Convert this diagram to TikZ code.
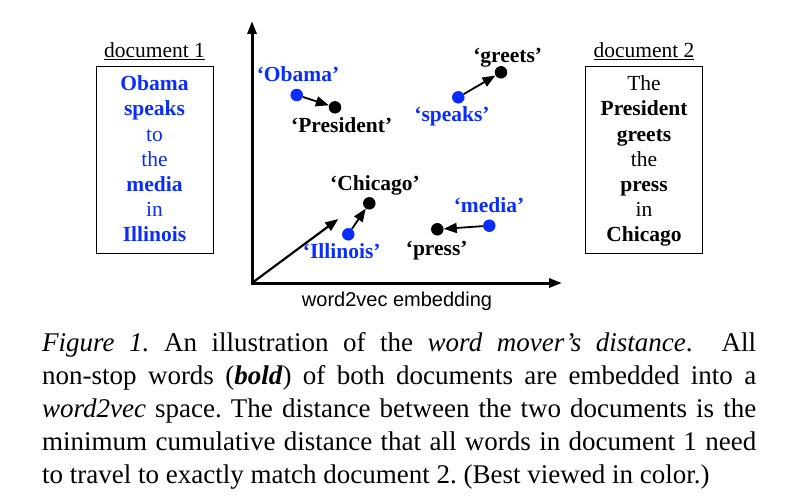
\documentclass[tikz,border=0pt]{standalone}
\usepackage{fontspec}
\setmainfont{Liberation Serif}
\setsansfont{Liberation Sans}
\usetikzlibrary{arrows.meta}
\usetikzlibrary{calc}

\definecolor{wordblue}{RGB}{10,45,255}

\begin{document}
\frenchspacing
\begin{tikzpicture}[x=1pt, y=-1pt,
    wdot/.style={circle, fill=#1, inner sep=0pt, minimum size=12.5pt},
    wlabel/.style={font=\fontsize{21.5}{25}\selectfont\bfseries, text=#1, anchor=base, inner sep=0pt},
    move/.style={-{Triangle[length=13pt, width=10pt]}, line width=1.8pt},
    axis/.style={{Triangle[length=13pt, width=9pt]}-{Triangle[length=13pt, width=9pt]}, line width=3pt},
    docbox/.style={draw, line width=1pt, minimum width=117pt, minimum height=186pt, inner sep=0pt},
    docword/.style={font=\fontsize{21.5}{25}\selectfont, anchor=base, inner sep=0pt},
    capline/.style={font=\fontsize{27}{33}\selectfont, anchor=base west, inner sep=0pt}]
    \useasboundingbox (0,0) rectangle (786,500);

    % The embedding space
        \coordinate (O) at (252,283);
        \coordinate (ytop) at (252,21);
        \coordinate (xend) at (562,283);
        \draw[axis] (ytop) -- (O) -- (xend);
        \node[font=\sffamily\fontsize{20}{24}\selectfont, anchor=base, inner sep=0pt] (xlabel) at (397,306) {word2vec embedding};

    % Document 1
        \node[docword] (docAtitle) at (154.5,58) {\underline{document 1}};
        \node[docbox] (docA) at (154.5,160) {};
        \foreach \w/\s [count=\i] in {Obama/\bfseries, speaks/\bfseries, to/, the/, media/\bfseries, in/, Illinois/\bfseries}
            \node[docword, text=wordblue] (docA\i) at (154.5,66+25*\i) {\s\w};

    % Document 2
        \node[docword] (docBtitle) at (644,58) {\underline{document 2}};
        \node[docbox] (docB) at (644,160) {};
        \foreach \w/\s [count=\i] in {The/, President/\bfseries, greets/\bfseries, the/, press/\bfseries, in/, Chicago/\bfseries}
            \node[docword] (docB\i) at (644,66+25*\i) {\s\w};

    % Words as points
        \node[wdot=wordblue] (obama) at (296.7,95) {};
        \node[wdot=black] (president) at (335,107.3) {};
        \node[wdot=wordblue] (speaks) at (458.3,97.3) {};
        \node[wdot=black] (greets) at (501,72.3) {};
        \node[wdot=black] (chicago) at (369.3,203.3) {};
        \node[wdot=wordblue] (illinois) at (348.3,234.3) {};
        \node[wdot=wordblue] (media) at (489.3,225.7) {};
        \node[wdot=black] (press) at (437.3,229.3) {};

        \node[wlabel=wordblue] (obamatext) at (298,81.7) {`Obama'};
        \node[wlabel=black] (presidenttext) at (341.7,132) {`President'};
        \node[wlabel=wordblue] (speakstext) at (452,121.7) {`speaks'};
        \node[wlabel=black] (greetstext) at (507.7,62.7) {`greets'};
        \node[wlabel=black] (chicagotext) at (375,190) {`Chicago'};
        \node[wlabel=wordblue] (illinoistext) at (341.7,258.3) {`Illinois'};
        \node[wlabel=wordblue] (mediatext) at (489,212.7) {`media'};
        \node[wlabel=black] (presstext) at (436.7,255) {`press'};

    % Moving words
        \draw[move] (obama) -- (president);
        \draw[move] (speaks) -- (greets);
        \draw[move] (illinois) -- (chicago);
        \draw[move] (media) -- (press);
        \coordinate (vec) at (338.3,219);
        \draw[move, line width=2.2pt] (O) -- (vec);

    % Caption
        \node[capline] (cap1) at (42,351) {\makebox[714pt][s]{\textit{Figure 1.} An illustration of the \textit{word mover's distance}. \ All}};
        \node[capline] (cap2) at (42,384) {\makebox[714pt][s]{non-stop words (\textbf{\textit{bold}}) of both documents are embedded into a}};
        \node[capline] (cap3) at (42,417) {\makebox[714pt][s]{\textit{word2vec} space. The distance between the two documents is the}};
        \node[capline] (cap4) at (42,450) {\makebox[714pt][s]{minimum cumulative distance that all words in document 1 need}};
        \node[capline] (cap5) at (42,483) {to travel to exactly match document 2. (Best viewed in color.)};
\end{tikzpicture}
\end{document}
